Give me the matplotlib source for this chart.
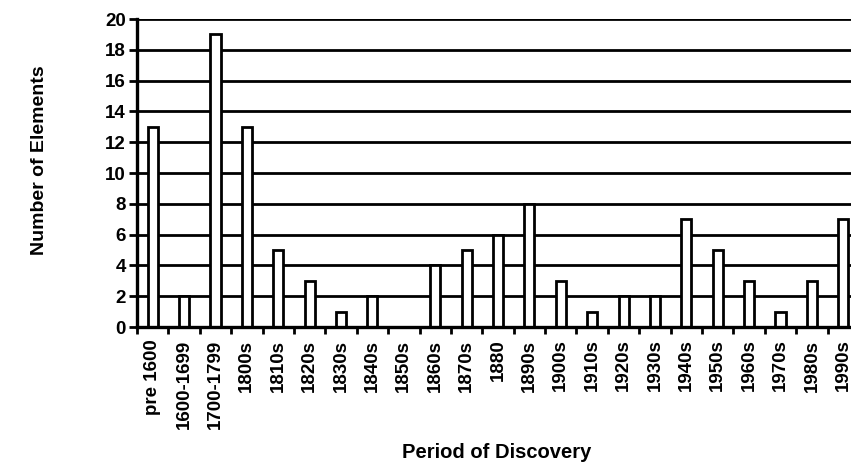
import matplotlib
matplotlib.use("Agg")
import matplotlib.pyplot as plt
import numpy as np

# Elements discovered per period
periods = ["pre 1600", "1600-1699", "1700-1799", "1800s", "1810s", "1820s",
           "1830s", "1840s", "1850s", "1860s", "1870s", "1880", "1890s",
           "1900s", "1910s", "1920s", "1930s", "1940s", "1950s", "1960s",
           "1970s", "1980s", "1990s"]
counts = [13, 2, 19, 13, 5, 3, 1, 2, 0, 4, 5, 6, 8, 3, 1, 2, 2, 7, 5, 3, 1, 3, 7]
y_ticks = [0, 2, 4, 6, 8, 10, 12, 14, 16, 18, 20]

plt.rcParams["font.family"] = ["Liberation Sans", "DejaVu Sans"]
plt.rcParams["font.weight"] = "bold"

W, H = 851, 467
fig = plt.figure(figsize=(W / 100, H / 100), dpi=100)
ax = fig.add_axes([137 / W, (H - 327) / H, 722 / W, 308 / H])

x = np.arange(len(periods))
ax.bar(x, counts, width=0.32, color="white", edgecolor="black",
       linewidth=2.0, zorder=3)

# horizontal grid lines behind the bars
for yv in y_ticks[1:]:
    ax.axhline(yv, color="black", linewidth=2.0, zorder=1)

ax.set_xlim(-0.5, len(periods) - 0.5)
ax.set_ylim(0, 20)

ax.set_yticks(y_ticks)
ax.set_yticklabels([str(v) for v in y_ticks], fontsize=13.5, fontweight="bold")
ax.tick_params(axis="y", direction="out", length=6, width=2.0, pad=2)

# labels at the category centres, tick marks at the boundaries
ax.set_xticks(x)
ax.set_xticklabels(periods, rotation=90, fontsize=13.5, fontweight="bold",
                   va="top", ha="center")
ax.tick_params(axis="x", which="major", length=0, pad=9)
ax.set_xticks(np.arange(len(periods) + 1) - 0.5, minor=True)
ax.tick_params(axis="x", which="minor", direction="out", length=5, width=2.0)

for side in ["top", "right"]:
    ax.spines[side].set_visible(False)
for side in ["left", "bottom"]:
    ax.spines[side].set_linewidth(2.4)
    ax.spines[side].set_zorder(4)

fig.text(40 / W, (H - 160) / H, "Number of Elements", rotation=90,
         ha="center", va="center", fontsize=14, fontweight="bold")
fig.text(497 / W, (H - 453) / H, "Period of Discovery",
         ha="center", va="center", fontsize=14.5, fontweight="bold")

fig.savefig("out.png", dpi=100)
